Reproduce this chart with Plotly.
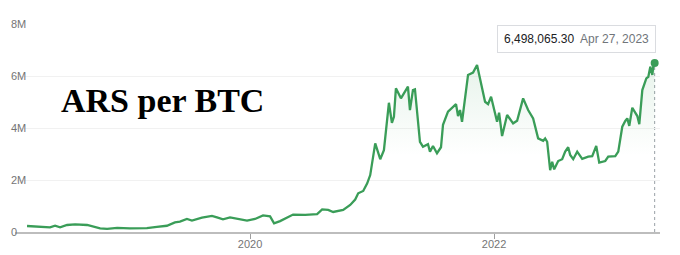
import plotly.graph_objects as go

dates = [
    "2018-03-04", "2018-04-12", "2018-05-12", "2018-05-27", "2018-06-11", "2018-07-02",
    "2018-07-26", "2018-08-31", "2018-09-15", "2018-10-09", "2018-10-30", "2018-11-29",
    "2019-01-06", "2019-02-26", "2019-03-28", "2019-04-27", "2019-05-21", "2019-06-05",
    "2019-06-26", "2019-07-11", "2019-08-10", "2019-09-09", "2019-09-24",
    "2019-10-12", "2019-11-02", "2019-12-02", "2019-12-23",
    "2020-01-16", "2020-02-09", "2020-03-01", "2020-03-13", "2020-03-31", "2020-05-09",
    "2020-06-14", "2020-07-20", "2020-08-04", "2020-08-22", "2020-09-06", "2020-10-06",
    "2020-10-27", "2020-11-11", "2020-11-20", "2020-12-05", "2020-12-17", "2020-12-26",
    "2021-01-10", "2021-01-25", "2021-02-05", "2021-02-20", "2021-03-01", "2021-03-07",
    "2021-03-13", "2021-03-28", "2021-04-18", "2021-04-24", "2021-05-03", "2021-05-09",
    "2021-05-24", "2021-06-02", "2021-06-17", "2021-06-23", "2021-07-02", "2021-07-14",
    "2021-07-26", "2021-08-01", "2021-08-16", "2021-08-31", "2021-09-09", "2021-09-15",
    "2021-09-21", "2021-09-27", "2021-10-15", "2021-10-30", "2021-11-11", "2021-12-05",
    "2021-12-14", "2021-12-23", "2022-01-04", "2022-01-10", "2022-01-16", "2022-01-25",
    "2022-02-09", "2022-02-27", "2022-03-11", "2022-03-29", "2022-04-13", "2022-04-28",
    "2022-05-13", "2022-05-28", "2022-06-03", "2022-06-09", "2022-06-18", "2022-06-24",
    "2022-06-30", "2022-07-12", "2022-07-24", "2022-08-02", "2022-08-11", "2022-08-17",
    "2022-08-26", "2022-09-07", "2022-09-22", "2022-10-10", "2022-10-22", "2022-11-03",
    "2022-11-12", "2022-11-30", "2022-12-09", "2022-12-30", "2023-01-08", "2023-01-20",
    "2023-01-29", "2023-02-04", "2023-02-10", "2023-02-19", "2023-03-06", "2023-03-12",
    "2023-03-21", "2023-04-02", "2023-04-08", "2023-04-14", "2023-04-20", "2023-04-24",
    "2023-04-27",
]

values = [
    230000, 190000, 180000, 240000, 180000, 270000,
    290000, 270000, 230000, 140000, 120000, 160000,
    140000, 150000, 200000, 240000, 370000, 400000,
    500000, 440000, 550000, 620000, 560000,
    490000, 560000, 480000, 440000,
    500000, 640000, 600000, 330000, 420000, 670000,
    660000, 690000, 870000, 850000, 770000, 850000,
    1040000, 1250000, 1490000, 1580000, 1870000, 2190000,
    3410000, 2800000, 3150000, 4970000, 4200000, 4430000,
    5530000, 5140000, 5590000, 4690000, 5460000, 5490000,
    3470000, 3280000, 3380000, 3090000, 3310000, 3030000,
    3260000, 4120000, 4630000, 4820000, 4920000, 4460000,
    4690000, 4240000, 6040000, 6130000, 6420000, 5010000,
    4920000, 5200000, 4580000, 4240000, 4590000, 3690000,
    4500000, 4180000, 4280000, 5140000, 4690000, 4370000,
    3600000, 3510000, 3600000, 3470000, 2380000, 2700000,
    2410000, 2730000, 2800000, 3090000, 3260000, 2960000,
    2800000, 3090000, 2810000, 2900000, 2920000, 3310000,
    2670000, 2730000, 2900000, 2920000, 3090000, 4050000,
    4270000, 4370000, 4080000, 4780000, 4460000, 4150000,
    5460000, 5910000, 5970000, 6360000, 6040000, 6490000,
    6498065.30,
]

y_tickvals = [0, 2000000, 4000000, 6000000, 8000000]
y_ticktext = ["0", "2M", "4M", "6M", "8M"]
x_tickvals = ["2020-01-01", "2022-01-01"]
x_ticktext = ["2020", "2022"]
title_text = "ARS per BTC"
tooltip_value = "6,498,065.30"
tooltip_date = "Apr 27, 2023"

green = "#3a9d58"

fig = go.Figure()
fig.add_trace(go.Scatter(
    x=dates, y=values, mode="lines",
    line=dict(color=green, width=2.3),
    fill="tozeroy",
    fillgradient=dict(
        type="vertical",
        colorscale=[[0, "rgba(58,157,88,0)"], [0.45, "rgba(58,157,88,0.0)"], [1, "rgba(58,157,88,0.12)"]],
    ),
    hoverinfo="skip",
))
fig.add_trace(go.Scatter(
    x=[dates[-1]], y=[values[-1]], mode="markers",
    marker=dict(color=green, size=8),
    hoverinfo="skip",
))

fig.add_shape(type="line", xref="x", yref="y",
              x0=dates[-1], x1=dates[-1], y0=0, y1=values[-1],
              line=dict(color="#9aa0a6", width=1, dash="dot"), layer="below")

fig.add_annotation(
    x=dates[-1], xref="x", y=0.928, yref="paper",
    xanchor="right", yanchor="middle", xshift=1,
    text=f"{tooltip_value}  <span style='color:#70757a'>{tooltip_date}</span>",
    showarrow=False,
    font=dict(family="Liberation Sans, Arial, sans-serif", size=12, color="#202124"),
    bgcolor="white", bordercolor="#dadce0", borderwidth=1, borderpad=6,
)

fig.add_annotation(
    x=0.228, xref="paper", y=0.63, yref="paper",
    xanchor="center", yanchor="middle",
    text=f"<b>{title_text}</b>", showarrow=False,
    font=dict(family="Liberation Serif, Times New Roman, serif", size=34, color="black"),
)

fig.update_layout(
    width=680, height=255,
    margin=dict(l=15, r=20, t=24, b=23, autoexpand=False),
    paper_bgcolor="white", plot_bgcolor="white",
    showlegend=False,
    xaxis=dict(
        range=["2018-01-27", "2023-05-13"],
        tickvals=x_tickvals, ticktext=x_ticktext,
        ticks="outside", ticklen=5, tickcolor="#9e9e9e", tickwidth=1,
        showgrid=False, zeroline=False, automargin=False,
        showline=True, linecolor="#bdbdbd", linewidth=2,
        ticklabelstandoff=-4,
        tickfont=dict(family="Liberation Sans, Arial, sans-serif", size=11, color="#757575"),
    ),
    yaxis=dict(
        range=[0, 8000000],
        tickvals=y_tickvals, ticktext=y_ticktext,
        showgrid=True, gridcolor="#f1f1f1", gridwidth=1,
        zeroline=False, showline=False, automargin=False,
        ticks="", ticklabelposition="inside", ticklabelstandoff=-7,
        ticklabeloverflow="allow",
        tickfont=dict(family="Liberation Sans, Arial, sans-serif", size=11, color="#757575"),
    ),
)

fig.write_html("out.html")
